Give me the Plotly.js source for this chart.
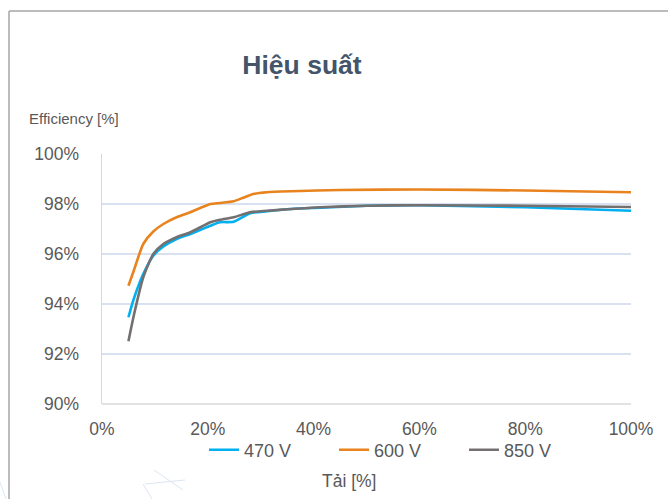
<!DOCTYPE html>
<html>
<head>
<meta charset="utf-8">
<script src="https://cdn.plot.ly/plotly-3.0.1.min.js"></script>
<style>
html,body{margin:0;padding:0;background:#fff;}
#chart{width:668px;height:499px;}
</style>
</head>
<body>
<div id="chart"></div>
<script>
// Load [%]
const load600 = [5, 6, 7.8, 9.7, 11.6, 14.1, 16.7, 20.5, 22.3, 24.9, 26.7, 28.6, 31.2, 35.8, 45, 60, 80, 100];
const eff600  = [94.73, 95.33, 96.4, 96.9, 97.2, 97.47, 97.67, 98.0, 98.04, 98.11, 98.25, 98.4, 98.47, 98.51, 98.56, 98.58, 98.54, 98.47];

const load470 = [5, 6, 7.8, 9.7, 11.6, 14.1, 16.7, 20.5, 22.3, 24.9, 28.0, 31.2, 35.8, 41.2, 50, 60, 80, 100];
const eff470  = [93.47, 94.2, 95.2, 95.93, 96.3, 96.6, 96.8, 97.13, 97.27, 97.29, 97.63, 97.71, 97.8, 97.85, 97.93, 97.95, 97.87, 97.73];

const load850 = [5, 6, 7.8, 9.7, 11.6, 14.1, 16.7, 20.5, 22.3, 24.9, 28.0, 31.2, 35.8, 41.2, 50, 60, 80, 100];
const eff850  = [92.51, 93.53, 95.07, 96.0, 96.4, 96.67, 96.87, 97.27, 97.37, 97.47, 97.67, 97.73, 97.8, 97.87, 97.93, 97.95, 97.93, 97.88];

const seriesNames = ["470 V", "600 V", "850 V"];
const xTickVals = [0, 20, 40, 60, 80, 100];
const yTickVals = [90, 92, 94, 96, 98, 100];

const FONT = "Liberation Sans, Arial, sans-serif";
const GREY = "#595959";

function trace(x, y, name, color) {
  return {
    x: x, y: y, name: name, type: "scatter", mode: "lines",
    line: {color: color, width: 2.6, shape: "spline", smoothing: 0.6},
    hoverinfo: "skip"
  };
}

const data = [
  trace(load470, eff470, seriesNames[0], "#00B0F0"),
  trace(load600, eff600, seriesNames[1], "#E8831E"),
  trace(load850, eff850, seriesNames[2], "#747070")
];

const L = 102, R = 37, T = 154, B = 95, W = 668, H = 499;
const pw = W - L - R, ph = H - T - B;
function px2x(p) { return (p - L) / pw; }
function py2y(p) { return 1 - (p - T) / ph; }

const layout = {
  width: W, height: H,
  margin: {l: L, r: R, t: T, b: B, pad: 0},
  paper_bgcolor: "#ffffff",
  plot_bgcolor: "#ffffff",
  font: {family: FONT, color: GREY, size: 17.5},
  showlegend: true,
  title: {
    text: "<b>Hiệu suất</b>",
    font: {family: FONT, size: 26.5, color: "#44546A"},
    x: px2x(302), xref: "paper", xanchor: "center",
    y: 1 - 65 / H, yref: "container", yanchor: "middle"
  },
  xaxis: {
    range: [0, 100],
    tickvals: xTickVals,
    ticktext: xTickVals.map(v => v + "%"),
    showgrid: false,
    zeroline: false,
    showline: false,
    ticks: "",
    ticklabelstandoff: 12,
    tickfont: {family: FONT, size: 17.5, color: GREY},
    fixedrange: true
  },
  yaxis: {
    range: [90, 100],
    tickvals: yTickVals,
    ticktext: yTickVals.map(v => v + "%"),
    showgrid: true,
    gridcolor: "#D9E1F0",
    gridwidth: 1.5,
    zeroline: false,
    showline: true,
    linecolor: "#D9D9D9",
    linewidth: 1.5,
    ticks: "",
    ticklabelstandoff: 18,
    tickfont: {family: FONT, size: 17.5, color: GREY},
    fixedrange: true
  },
  legend: {
    orientation: "h",
    x: px2x(204), xanchor: "left",
    y: py2y(450), yanchor: "middle",
    font: {family: FONT, size: 18, color: GREY},
    bgcolor: "rgba(0,0,0,0)",
    itemwidth: 30,
    entrywidth: 85,
    entrywidthmode: "pixels",
    traceorder: "normal"
  },
  annotations: [
    {
      text: "Efficiency [%]", xref: "paper", yref: "paper",
      x: px2x(27), xanchor: "left", y: py2y(118), yanchor: "middle",
      showarrow: false, font: {family: FONT, size: 15, color: GREY}
    },
    {
      text: "Tải [%]", xref: "paper", yref: "paper",
      x: px2x(349), xanchor: "center", y: py2y(481), yanchor: "middle",
      showarrow: false, font: {family: FONT, size: 17.5, color: GREY}
    }
  ],
  shapes: [
    // bottom axis line at 90%
    {type: "line", xref: "paper", yref: "paper", x0: 0, x1: 1, y0: 0, y1: 0,
     line: {color: "#D9D9D9", width: 1.5}},
    // outer frame (left & top)
    {type: "line", xref: "paper", yref: "paper", x0: px2x(9), x1: px2x(9), y0: py2y(11), y1: py2y(505),
     line: {color: "#A6A6A6", width: 1.5}},
    {type: "line", xref: "paper", yref: "paper", x0: px2x(9), x1: px2x(675), y0: py2y(11), y1: py2y(11),
     line: {color: "#A6A6A6", width: 1.5}},
    // faint decorative strokes (bottom left)
    {type: "line", xref: "paper", yref: "paper", x0: px2x(154), x1: px2x(183), y0: py2y(470), y1: py2y(490),
     line: {color: "#DCE6F2", width: 1}},
    {type: "line", xref: "paper", yref: "paper", x0: px2x(145), x1: px2x(185), y0: py2y(484), y1: py2y(480),
     line: {color: "#DCE6F2", width: 1}},
    {type: "line", xref: "paper", yref: "paper", x0: px2x(143), x1: px2x(152), y0: py2y(484), y1: py2y(499),
     line: {color: "#DCE6F2", width: 1}},
    {type: "line", xref: "paper", yref: "paper", x0: px2x(0), x1: px2x(6), y0: py2y(482), y1: py2y(499),
     line: {color: "#DCE6F2", width: 1}}
  ]
};

Plotly.newPlot("chart", data, layout, {displayModeBar: false, staticPlot: true});
</script>
</body>
</html>
